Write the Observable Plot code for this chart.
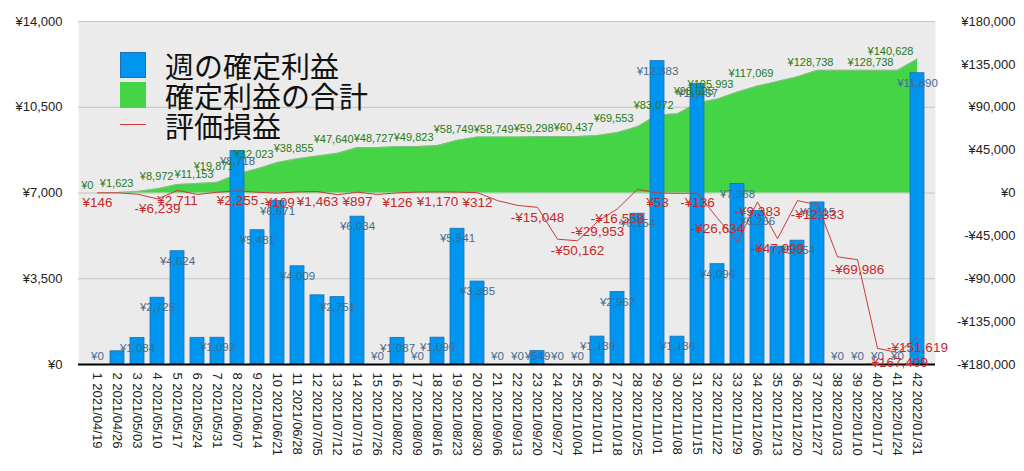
<!DOCTYPE html>
<html>
<head>
<meta charset="utf-8">
<script src="https://cdn.jsdelivr.net/npm/d3@7"></script>
<script src="https://cdn.jsdelivr.net/npm/@observablehq/plot@0.6"></script>
<style>
  html, body { margin: 0; padding: 0; background: #fff; }
  #wrap { position: relative; width: 1024px; height: 471px; overflow: hidden; }
  #legend { position: absolute; left: 120px; top: 50px; font-family: "Noto Sans CJK JP", sans-serif; font-size: 29px; color: #111; }
  .row { position: relative; height: 30px; line-height: 30px; padding-left: 45px; white-space: nowrap; }
  .sw { position: absolute; left: 0; top: 2px; width: 26px; height: 26px; box-sizing: border-box; }
  .ln { position: absolute; left: 0; top: 14px; width: 26px; height: 0; border-top: 1.5px solid #d03a3a; }
</style>
</head>
<body>
<div id="wrap"></div>
<script>
const weeks = [1,2,3,4,5,6,7,8,9,10,11,12,13,14,15,16,17,18,19,20,21,22,23,24,25,26,27,28,29,30,31,32,33,34,35,36,37,38,39,40,41,42];
const dates = ["2021/04/19","2021/04/26","2021/05/03","2021/05/10","2021/05/17","2021/05/24","2021/05/31","2021/06/07","2021/06/14","2021/06/21","2021/06/28","2021/07/05","2021/07/12","2021/07/19","2021/07/26","2021/08/02","2021/08/09","2021/08/16","2021/08/23","2021/08/30","2021/09/06","2021/09/13","2021/09/20","2021/09/27","2021/10/04","2021/10/11","2021/10/18","2021/10/25","2021/11/01","2021/11/08","2021/11/15","2021/11/22","2021/11/29","2021/12/06","2021/12/13","2021/12/20","2021/12/27","2022/01/03","2022/01/10","2022/01/17","2022/01/24","2022/01/31"];
// 週の確定利益 (left axis)
const weekly = [0,539,1084,2725,4624,1089,1092,8718,5481,6671,4009,2823,2751,6034,0,1087,0,1096,5541,3385,0,0,549,0,0,1139,2962,6154,12383,1136,11457,4096,7368,6266,4810,5054,6615,0,0,0,0,11890];
// 確定利益の合計 (right axis)
const cumulative = [0,539,1623,4348,8972,10061,11153,19871,25352,32023,36032,38855,41606,47640,47640,48727,48727,49823,55364,58749,58749,58749,59298,59298,59298,60437,63399,69553,81936,83072,94529,98625,105993,112259,117069,122123,128738,128738,128738,128738,128738,140628];
// 評価損益 (right axis)
const unrealized = [146,200,-1200,-6239,2711,-1500,800,2255,800,-109,1200,1463,-1800,897,-1500,126,1000,1170,1000,312,-8000,-13000,-15048,-48500,-50162,-29953,-16558,4000,53,-400,-136,-26634,-51000,-9383,-47999,-8000,-12333,-67000,-69986,-163000,-167409,-151619];
// weeks whose value labels are visible in the reference
const weeklyLabelWeeks = [1,3,4,5,7,8,9,10,11,13,14,15,16,17,18,19,20,21,22,23,24,25,26,27,28,29,30,31,32,33,34,36,37,38,39,40,41,42];
const cumLabelWeeks = [1,3,5,7,8,10,12,14,16,18,20,22,24,26,28,30,32,33,35,38,41,42];
const unrealizedLabelWeeks = [1,4,5,8,10,12,14,16,18,20,23,25,26,27,29,31,32,34,35,37,39,41,42];
const leftTicks = [0,3500,7000,10500,14000];
const rightTicks = [-180000,-135000,-90000,-45000,0,45000,90000,135000,180000];

const LEFT_MAX = 14000, RIGHT_MAX = 180000;
const toLeft = v => LEFT_MAX / 2 + v * (LEFT_MAX / 2) / RIGHT_MAX;
const toRight = v => Math.round((v - LEFT_MAX / 2) * RIGHT_MAX / (LEFT_MAX / 2));
const yen = v => (v < 0 ? "-" : "") + "¥" + d3.format(",")(Math.abs(v));

const data = weeks.map((w, i) => ({
  week: w, label: w + " " + dates[i], w: weekly[i], cum: cumulative[i], pl: unrealized[i]
}));
const domain = data.map(d => d.label);

const chart = Plot.plot({
  width: 1024,
  height: 471,
  marginTop: 21,
  marginBottom: 107,
  marginLeft: 78,
  marginRight: 89,
  style: { fontFamily: "'Liberation Sans', Arial, sans-serif", color: "#222", background: "#fff" },
  x: { type: "band", domain, paddingInner: 0.3, paddingOuter: 0.15 },
  y: { domain: [0, LEFT_MAX] },
  marks: [
    Plot.frame({ fill: "#ebebeb", stroke: null }),
    Plot.gridY(leftTicks, { stroke: "#c4c4c4", strokeOpacity: 1, strokeWidth: 1 }),
    Plot.areaY(data, { x: "label", y1: () => toLeft(0), y2: d => toLeft(d.cum), fill: "#45d445", fillOpacity: 1 }),
    Plot.lineY(data, { x: "label", y: d => toLeft(d.cum), stroke: "#9ab89a", strokeWidth: 0.8 }),
    Plot.barY(data, { x: "label", y: "w", fill: "#0096f0", stroke: "#1f6fb0", strokeWidth: 0.8 }),
    Plot.lineY(data, { x: "label", y: d => toLeft(d.pl), stroke: "#c83a3a", strokeWidth: 1 }),
    Plot.ruleY([0], { stroke: "#000", strokeWidth: 2 }),
    Plot.text(data.filter(d => weeklyLabelWeeks.includes(d.week)), {
      x: "label", y: d => Math.max(d.w, 735), dy: 10, text: d => yen(d.w),
      fill: "#3f6a8e", fontSize: 11.5
    }),
    Plot.text(data.filter(d => cumLabelWeeks.includes(d.week)), {
      x: "label", y: d => toLeft(d.cum), dx: -4, dy: -8, textAnchor: "end", text: d => yen(d.cum),
      fill: "#1f7a22", fontSize: 11
    }),
    Plot.text(data.filter(d => unrealizedLabelWeeks.includes(d.week)), {
      x: "label", y: d => toLeft(d.pl), dy: 10, text: d => yen(d.pl),
      fill: "#c62828", fontSize: 13.5
    }),
    Plot.axisY({ ticks: leftTicks, tickFormat: yen, tickSize: 0, tickPadding: 16, fontSize: 13, label: null }),
    Plot.axisY({ anchor: "right", ticks: rightTicks.map(toLeft), tickFormat: v => yen(toRight(v)),
      tickSize: 0, tickPadding: 80, textAnchor: "end", fontSize: 13, label: null }),
    Plot.axisX({ tickRotate: 90, tickSize: 0, tickPadding: 8, fontSize: 13, label: null })
  ]
});

const wrap = document.getElementById("wrap");
wrap.appendChild(chart);

const legend = document.createElement("div");
legend.id = "legend";
legend.innerHTML =
  '<div class="row"><span class="sw" style="background:#0096f0;border:1px solid #1f6fb0"></span>週の確定利益</div>' +
  '<div class="row"><span class="sw" style="background:#45d445"></span>確定利益の合計</div>' +
  '<div class="row"><span class="ln"></span>評価損益</div>';
wrap.appendChild(legend);
</script>
</body>
</html>
